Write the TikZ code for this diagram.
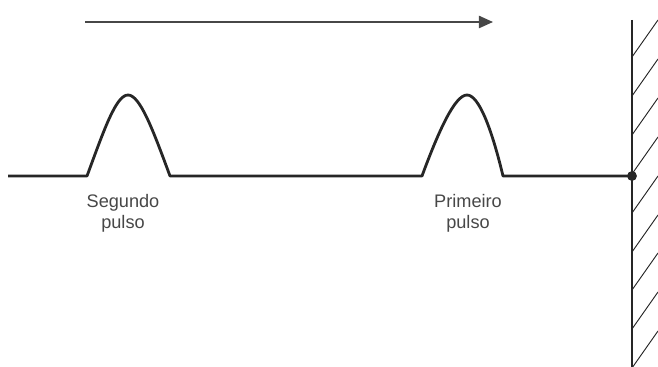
\documentclass[tikz,border=0pt]{standalone}
\usepackage{fontspec}
\setmainfont{Liberation Sans}
\usetikzlibrary{arrows.meta,positioning}
\colorlet{myink}{black!85}
\colorlet{mygray}{black!72}

\begin{document}
\begin{tikzpicture}[
  x=0.03cm, y=-0.03cm,
  rope/.style ={draw=myink, line width=2.4pt, line join=round},
  wall/.style ={draw=myink, line width=1.1pt},
  hatch/.style={draw=myink, line width=0.8pt},
  motion/.style={draw=mygray, line width=1.2pt, -{Triangle[length=12pt,width=10.5pt]}},
  label/.style={font=\fontsize{15.5}{18}\selectfont, text=mygray, align=center, inner sep=0pt},
]
\useasboundingbox (0,0) rectangle (658,367);

% ==================================================== the wall with its hatching
\begin{scope}
  \clip (0,0) rectangle (658,367);
  \draw[wall] (632,20) -- (632,370);
  \foreach \y in {57,96,135,174,213,252,290,329,368}
    \draw[hatch] (632,\y) -- ++(26,-37);
\end{scope}

% ==================================================== the rope and the two pulses
\coordinate (start) at (8,176);
\coordinate (fix)   at (632,176);
\draw[rope] (start) -- (87,176)
  .. controls (104,130) and (116,95) .. (128,95)
  .. controls (140,95) and (153,130) .. (170,176)
  -- (422,176)
  .. controls (439,130) and (455,95) .. (467,95)
  .. controls (479,95) and (492,130) .. (503,176)
  -- (fix);
\fill[myink] (fix) circle (4.2pt);

% direction of travel
\coordinate (arrA) at (85,22);
\coordinate (arrB) at (493,22);
\draw[motion] (arrA) -- (arrB);

\node[label] (segundo)  at (123,213) {Segundo\\pulso};
\node[label] (primeiro) at (468,213) {Primeiro\\pulso};
\end{tikzpicture}
\end{document}
